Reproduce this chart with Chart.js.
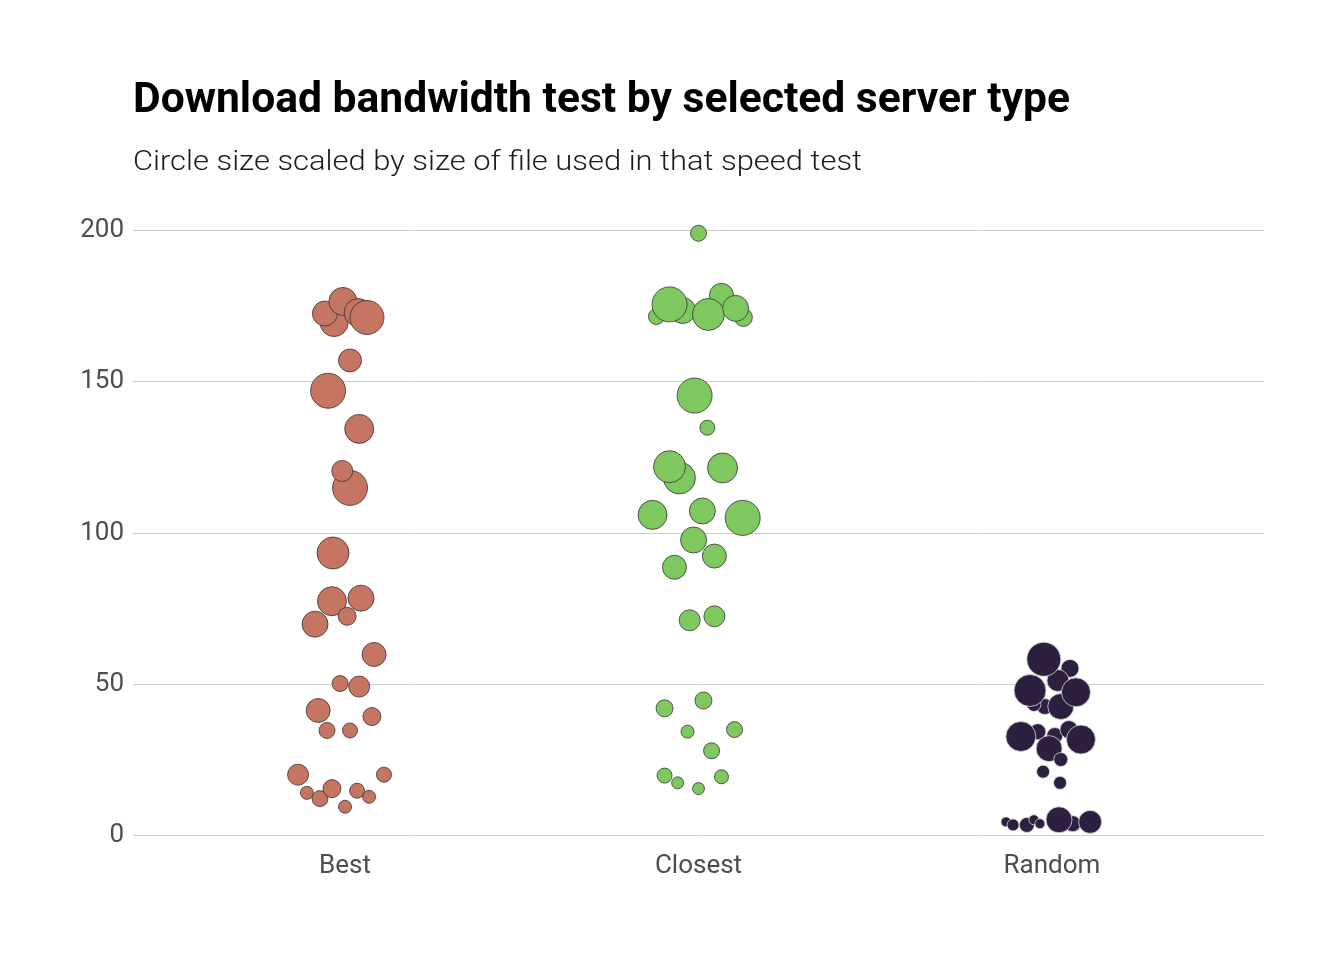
<!DOCTYPE html>
<html>
<head>
<meta charset="utf-8">
<script src="https://cdn.jsdelivr.net/npm/chart.js@4.4.1/dist/chart.umd.min.js"></script>
<style>
  html, body { margin: 0; padding: 0; background: #ffffff; }
  #wrap { position: relative; width: 1344px; height: 960px; overflow: hidden; }
  #chart { position: absolute; left: 0; top: 0; }
  .txt { position: absolute; left: 133px; white-space: nowrap; transform-origin: 0 0; font-family: Roboto, "Noto Sans", sans-serif; }
  #title { top: 72px; font-size: 43px; font-weight: 700; color: #000000; line-height: normal; }
  #subtitle { top: 144px; font-size: 28px; font-weight: 300; color: #1a1a1a; line-height: normal; }
</style>
</head>
<body>
<div id="wrap">
  <canvas id="chart" width="1344" height="960"></canvas>
  <div class="txt" id="title">Download bandwidth test by selected server type</div>
  <div class="txt" id="subtitle">Circle size scaled by size of file used in that speed test</div>
</div>
<script>
// ---- data ----
const categories = ["Best", "Closest", "Random"];
const yTicks = [0, 50, 100, 150, 200];

// Best server (x = category position with jitter, y = download Mbps, size = circle radius)
const bestX    = [0.969, 0.943, 0.994, 1.037, 1.062, 1.014, 0.952, 1.040, 1.014, 0.992, 0.966, 0.963, 1.045, 1.006, 0.915, 1.082, 0.986, 1.040, 0.924, 1.076, 0.949, 1.014, 0.867, 1.110, 0.892, 0.929, 0.963, 1.034, 1.068, 1.000];
const bestY    = [169.5, 172.5, 176.5, 172.8, 171.2, 157.0, 147.0, 134.4, 114.9, 120.5, 93.4, 77.5, 78.5, 72.5, 69.9, 59.9, 50.3, 49.3, 41.4, 39.4, 34.8, 34.8, 20.2, 20.2, 14.2, 12.3, 15.6, 14.9, 12.9, 9.6];
const bestSize = [14, 12.5, 14, 14, 17, 11.5, 17.5, 14.5, 17.5, 10.5, 16, 14.5, 13, 9, 13, 12, 8, 10.5, 12, 9, 8, 7.5, 10.5, 7.5, 6.5, 8, 9, 7.5, 6.5, 6.5];

// Closest server
const closestX    = [2.000, 1.881, 1.955, 2.127, 2.065, 1.918, 2.028, 2.105, 1.989, 2.025, 1.946, 1.918, 2.068, 1.870, 2.011, 2.125, 1.986, 2.045, 1.932, 1.975, 2.045, 1.904, 2.014, 1.969, 2.102, 2.037, 1.904, 1.941, 2.000, 2.065];
const closestY    = [199.0, 171.5, 173.5, 171.2, 178.5, 175.5, 172.2, 174.2, 145.4, 134.8, 118.2, 121.9, 121.5, 106.0, 107.3, 105.0, 97.7, 92.4, 88.7, 71.2, 72.5, 42.1, 44.7, 34.4, 35.1, 28.1, 19.9, 17.5, 15.6, 19.5];
const closestSize = [8, 8, 13, 9, 12, 17.5, 16, 13, 17.5, 7.5, 16, 16, 15, 14.5, 13, 17.5, 13, 12, 12, 10.5, 10.5, 8.5, 8.5, 6.5, 8, 8, 7.5, 6, 6, 7];

// Random server
const randomX    = [3.051, 3.017, 2.980, 2.949, 3.025, 2.960, 3.008, 3.048, 2.992, 3.025, 2.975, 3.023, 2.977, 2.938, 3.068, 2.912, 3.082, 2.870, 2.890, 2.929, 2.949, 2.966, 3.059, 3.020, 3.108];
const randomY    = [55.3, 51.3, 42.7, 43.4, 42.7, 34.4, 33.1, 35.1, 28.8, 25.2, 21.2, 17.5, 58.3, 48.0, 47.4, 32.8, 31.8, 4.6, 3.6, 3.6, 5.3, 4.0, 4.0, 5.3, 4.6];
const randomSize = [9, 11, 8, 7, 13, 8, 8, 9, 13, 7, 6.5, 6.5, 17, 16, 14.5, 15, 14.5, 5, 6, 7.5, 5, 5, 8, 13, 11.5];

function pts(xs, ys, rs) { return xs.map((x, i) => ({ x: x, y: ys[i], r: rs[i] })); }

// ---- fit title widths (condensed look) ----
function fit(id, target) {
  const el = document.getElementById(id);
  const w = el.getBoundingClientRect().width;
  if (w > 0) el.style.transform = 'scaleX(' + (target / w) + ')';
}
fit('title', 937);
fit('subtitle', 729);

const tickFont = { family: 'Roboto, "Noto Sans", sans-serif', size: 26 };

new Chart(document.getElementById('chart'), {
  type: 'bubble',
  data: {
    datasets: [
      { label: categories[0], data: pts(bestX, bestY, bestSize), backgroundColor: '#c57561', borderColor: '#333333', borderWidth: 0.8, clip: false },
      { label: categories[1], data: pts(closestX, closestY, closestSize), backgroundColor: '#7ec85f', borderColor: '#333333', borderWidth: 0.8, clip: false },
      { label: categories[2], data: pts(randomX, randomY, randomSize), backgroundColor: '#2d1f40', borderColor: '#dcdcdc', borderWidth: 0.8, clip: false }
    ]
  },
  options: {
    responsive: false,
    animation: false,
    events: [],
    layout: { padding: { left: 0, right: 80, top: 203, bottom: 0 } },
    plugins: { legend: { display: false }, title: { display: false }, tooltip: { enabled: false } },
    elements: { point: { hoverRadius: 0, hoverBorderWidth: 0 } },
    scales: {
      x: {
        type: 'linear', min: 0.4, max: 3.6,
        afterBuildTicks: (s) => { s.ticks = categories.map((c, i) => ({ value: i + 1 })); },
        afterFit: (s) => { s.height = 106; },
        ticks: { callback: (v) => categories[Math.round(v) - 1] || '', color: '#4d4d4d', font: tickFont, padding: -3, maxRotation: 0, autoSkip: false },
        grid: { display: false, drawTicks: false },
        border: { display: false }
      },
      y: {
        type: 'linear', min: -6, max: 209,
        afterBuildTicks: (s) => { s.ticks = yTicks.map(v => ({ value: v })); },
        afterFit: (s) => { s.width = 133; },
        ticks: { color: '#4d4d4d', font: tickFont, padding: 9 },
        grid: { color: '#cccccc', lineWidth: 1, drawTicks: false },
        border: { display: false }
      }
    }
  }
});
</script>
</body>
</html>
